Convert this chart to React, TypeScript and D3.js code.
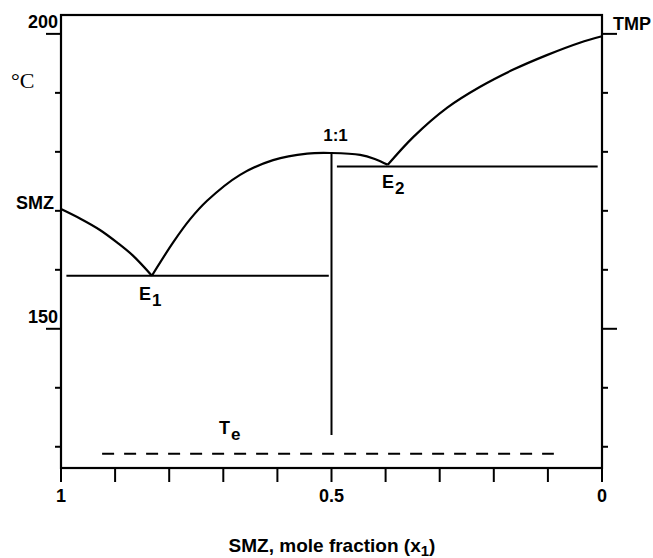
import * as React from "react"
import * as d3 from "d3"

const WIDTH = 653
const HEIGHT = 558

// liquidus branches, [x1, T in °C]
const smzBranch: [number, number][] = [
  [1.0, 170.3],
  [0.965, 168.7],
  [0.928, 166.75],
  [0.896, 164.6],
  [0.867, 162.4],
  [0.832, 159.0],
]
const compoundBranch: [number, number][] = [
  [0.832, 159.0],
  [0.793, 164.6],
  [0.762, 168.5],
  [0.73, 171.7],
  [0.669, 176.1],
  [0.608, 178.6],
  [0.545, 179.7],
  [0.5, 179.8],
  [0.447, 179.5],
  [0.42, 178.8],
  [0.396, 177.8],
]
const tmpBranch: [number, number][] = [
  [0.396, 177.8],
  [0.349, 182.5],
  [0.286, 187.5],
  [0.226, 191.0],
  [0.165, 193.9],
  [0.102, 196.4],
  [0.041, 198.5],
  [0.0, 199.6],
]

// eutectic lines and the 1:1 compound line
const e1Line = { from: 0.99, to: 0.505, t: 159.0 }
const e2Line = { from: 0.49, to: 0.008, t: 177.5 }
const compoundLine = { x: 0.5, top: 179.8, bottom: 132.0 }
const teLine = { from: 0.924, to: 0.089, t: 128.8 }

const yTicks = [200, 190, 180, 170, 160, 150, 140, 130]
const yMajor = [200, 150]
const xTicks = [1, 0.9, 0.8, 0.7, 0.6, 0.5, 0.4, 0.3, 0.2, 0.1, 0]
const xLabels = [1, 0.5, 0]

const SANS = "'Liberation Sans', Arial, sans-serif"

export default function App() {
  const ref = React.useRef<SVGSVGElement>(null)

  React.useEffect(() => {
    const svg = d3.select(ref.current)
    svg.selectAll("*").remove()

    const x = d3.scaleLinear().domain([1, 0]).range([61, 602])
    const y = d3.scaleLinear().domain([203.2, 126.4]).range([15, 468])
    const [x0, x1] = x.range()
    const [yTop, yBot] = y.range()

    const g = svg.append("g").attr("stroke", "#000").attr("fill", "none")

    // frame
    g.append("rect")
      .attr("x", x0)
      .attr("y", yTop)
      .attr("width", x1 - x0)
      .attr("height", yBot - yTop)
      .attr("stroke-width", 2.2)

    // y ticks both sides
    yTicks.forEach(t => {
      const len = yMajor.includes(t) ? 15 : 6
      g.append("line")
        .attr("x1", x0 - len).attr("x2", x0)
        .attr("y1", y(t)).attr("y2", y(t))
        .attr("stroke-width", 2)
      g.append("line")
        .attr("x1", x1).attr("x2", x1 + len)
        .attr("y1", y(t)).attr("y2", y(t))
        .attr("stroke-width", 2)
    })

    // x ticks
    xTicks.forEach(t => {
      g.append("line")
        .attr("x1", x(t)).attr("x2", x(t))
        .attr("y1", yBot).attr("y2", yBot + 14)
        .attr("stroke-width", 2)
    })

    const line = d3
      .line<[number, number]>()
      .x(d => x(d[0]))
      .y(d => y(d[1]))
      .curve(d3.curveCatmullRom.alpha(0.5))

    ;[smzBranch, compoundBranch, tmpBranch].forEach(b => {
      g.append("path").attr("d", line(b)).attr("stroke-width", 2.2)
    })

    ;[e1Line, e2Line].forEach(l => {
      g.append("line")
        .attr("x1", x(l.from)).attr("x2", x(l.to))
        .attr("y1", y(l.t)).attr("y2", y(l.t))
        .attr("stroke-width", 2)
    })

    g.append("line")
      .attr("x1", x(compoundLine.x)).attr("x2", x(compoundLine.x))
      .attr("y1", y(compoundLine.top)).attr("y2", y(compoundLine.bottom))
      .attr("stroke-width", 2)

    g.append("line")
      .attr("x1", x(teLine.from)).attr("x2", x(teLine.to))
      .attr("y1", y(teLine.t)).attr("y2", y(teLine.t))
      .attr("stroke-width", 2)
      .attr("stroke-dasharray", "12,10")

    const txt = svg
      .append("g")
      .attr("font-family", SANS)
      .attr("font-weight", "bold")
      .attr("fill", "#000")

    // y labels, sitting just above their ticks
    yMajor.forEach(t => {
      txt.append("text")
        .attr("x", x0 - 3)
        .attr("y", y(t) - 6)
        .attr("text-anchor", "end")
        .attr("font-size", 18)
        .text(t)
    })

    xLabels.forEach(t => {
      txt.append("text")
        .attr("x", x(t))
        .attr("y", 502)
        .attr("text-anchor", "middle")
        .attr("font-size", 18)
        .text(t)
    })

    txt.append("text")
      .attr("x", x0 - 7)
      .attr("y", y(smzBranch[0][1]))
      .attr("text-anchor", "end")
      .attr("font-size", 18)
      .text("SMZ")

    txt.append("text")
      .attr("x", x1 + 11)
      .attr("y", 30)
      .attr("font-size", 18)
      .text("TMP")

    txt.append("text")
      .attr("x", x(0.5) + 4)
      .attr("y", y(compoundLine.top) - 12)
      .attr("text-anchor", "middle")
      .attr("font-size", 17)
      .text("1:1")

    const sub = (px: number, py: number, main: string, s: string) => {
      const t = txt.append("text").attr("x", px).attr("y", py).attr("font-size", 18)
      t.append("tspan").text(main)
      t.append("tspan").attr("dx", 1).attr("dy", 6).attr("font-size", 17).text(s)
    }
    sub(139, 300, "E", "1")
    sub(382, 188, "E", "2")
    sub(219, 434, "T", "e")

    // °C unit
    svg.append("text")
      .attr("x", 11)
      .attr("y", 88)
      .attr("font-family", "'Liberation Serif', 'Times New Roman', serif")
      .attr("font-size", 22)
      .text("°C")

    const title = txt.append("text")
      .attr("x", 332)
      .attr("y", 552)
      .attr("text-anchor", "middle")
      .attr("font-size", 19)
    title.append("tspan").text("SMZ, mole fraction (x")
    title.append("tspan").attr("dy", 4).attr("font-size", 15).text("1")
    title.append("tspan").attr("dy", -4).text(")")
  }, [])

  return (
    <svg
      ref={ref}
      width={WIDTH}
      height={HEIGHT}
      style={{ position: "fixed", left: 0, top: 0, background: "#fff" }}
    />
  )
}
